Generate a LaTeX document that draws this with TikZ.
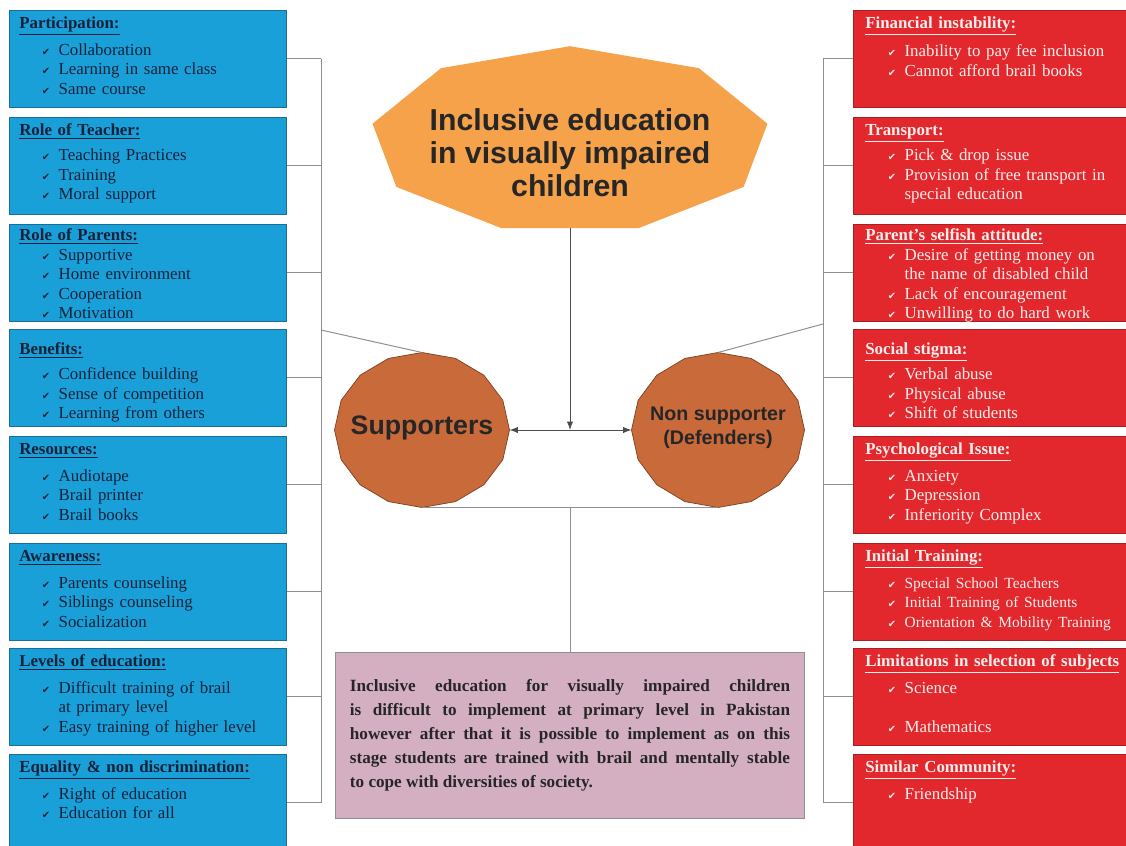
\documentclass[tikz,border=0pt]{standalone}
\usepackage{fontspec}
\setmainfont{Liberation Serif}
\newfontfamily\headfont{Liberation Sans}
\newfontfamily\symfont{DejaVu Sans}
\usetikzlibrary{arrows.meta,calc}

\definecolor{boxblue}{HTML}{1AA0D8}
\definecolor{blueedge}{HTML}{1B6D96}
\definecolor{bluetext}{HTML}{13213A}
\definecolor{boxred}{HTML}{E2282C}
\definecolor{rededge}{HTML}{A81E22}
\definecolor{redtext}{HTML}{FDEEEE}
\definecolor{goalorange}{HTML}{F5A24B}
\definecolor{sidebrown}{HTML}{C96A3B}
\definecolor{brownedge}{HTML}{7E3F1E}
\definecolor{notepink}{HTML}{D4AEC1}
\definecolor{linegray}{HTML}{8F8F8F}

% tick bullet and indents
\newcommand{\chk}{\makebox[12pt][l]{\symfont\fontsize{7}{7}\selectfont ✔}}
\newcommand{\bul}{\hspace*{16pt}\chk}
\newcommand{\cnt}{\hspace*{28pt}}

% [text offset]{name}{top left corner}{box style}{text}
\newcommand{\sidebox}[5][5]{%
  \node[#4] (#2) at (#3) {};
  \begin{scope}
    \clip (#2.south west) rectangle (#2.north east);
    \node[#4 text] at ($(#2.north west)+(10,#1)$) {#5};
  \end{scope}}

\begin{document}
\begin{tikzpicture}[x=0.025cm, y=-0.025cm,
    link/.style={draw=linegray, line width=0.7pt},
    tip/.style={-{Latex[length=6pt,width=4.5pt]}},
    lbox/.style={draw=blueedge, fill=boxblue, line width=0.6pt, anchor=north west,
      inner sep=0pt, minimum width=197pt, minimum height=68.7pt},
    lbox text/.style={anchor=north west, inner sep=0pt, text width=250pt, align=left,
      text=bluetext, font=\fontsize{12}{13.8}\selectfont},
    rbox/.style={draw=rededge, fill=boxred, line width=0.6pt, anchor=north west,
      inner sep=0pt, minimum width=200pt, minimum height=68.7pt},
    rbox text/.style={anchor=north west, inner sep=0pt, text width=250pt, align=left,
      text=redtext, xshift=1.4pt, font=\fontsize{12}{13.8}\selectfont},
    bigtext/.style={font=\headfont\bfseries, text=black!85, align=center}]

  \path[use as bounding box] (0,0) rectangle (1126,846);
  \clip (0,0) rectangle (1126,846);
  \fill[white] (0,0) rectangle (1126,846);

  % Supporters side
  \sidebox{L1}{9,10}{lbox}{\strut\underline{\textbf{Participation:}}\\[5pt]
    \bul Collaboration\\ \bul Learning in same class\\ \bul Same course}
  \sidebox{L2}{9,117}{lbox}{\strut\underline{\textbf{Role of Teacher:}}\\[4pt]
    \bul Teaching Practices\\ \bul Training\\ \bul Moral support}
  \sidebox[3]{L3}{9,224}{lbox}{\strut\underline{\textbf{Role of Parents:}}\\
    \bul Supportive\\ \bul Home environment\\ \bul Cooperation\\ \bul Motivation}
  \sidebox[12]{L4}{9,329}{lbox}{\strut\underline{\textbf{Benefits:}}\\[4pt]
    \bul Confidence building\\ \bul Sense of competition\\ \bul Learning from others}
  \sidebox{L5}{9,436}{lbox}{\strut\underline{\textbf{Resources:}}\\[5pt]
    \bul Audiotape\\ \bul Brail printer\\ \bul Brail books}
  \sidebox{L6}{9,543}{lbox}{\strut\underline{\textbf{Awareness:}}\\[5pt]
    \bul Parents counseling\\ \bul Siblings counseling\\ \bul Socialization}
  \sidebox{L7}{9,648}{lbox}{\strut\underline{\textbf{Levels of education:}}\\[5pt]
    \bul Difficult training of brail\\ \cnt at primary level\\ \bul Easy training of higher level}
  \sidebox{L8}{9,754}{lbox}{\strut\underline{\textbf{Equality \& non discrimination:}}\\[5pt]
    \bul Right of education\\ \bul Education for all}

  % Non supporter side
  \sidebox{R1}{853,10}{rbox}{\strut\underline{\textbf{Financial instability:}}\\[6pt]
    \bul Inability to pay fee inclusion\\ \bul Cannot afford brail books}
  \sidebox{R2}{853,117}{rbox}{\strut\underline{\textbf{Transport:}}\\[4pt]
    \bul Pick \& drop issue\\ \bul Provision of free transport in\\ \cnt special education}
  \sidebox[3]{R3}{853,224}{rbox}{\strut\underline{\textbf{Parent’s selfish attitude:}}\\
    \bul Desire of getting money on\\ \cnt the name of disabled child\\
    \bul Lack of encouragement\\ \bul Unwilling to do hard work}
  \sidebox[12]{R4}{853,329}{rbox}{\strut\underline{\textbf{Social stigma:}}\\[4pt]
    \bul Verbal abuse\\ \bul Physical abuse\\ \bul Shift of students}
  \sidebox{R5}{853,436}{rbox}{\strut\underline{\textbf{Psychological Issue:}}\\[5pt]
    \bul Anxiety\\ \bul Depression\\ \bul Inferiority Complex}
  \sidebox{R6}{853,543}{rbox}{\strut\underline{\textbf{Initial Training:}}\\[5pt]
    {\fontsize{11}{13.8}\selectfont \bul Special School Teachers\\
    \bul Initial Training of Students\\ \bul Orientation \& Mobility Training}}
  \sidebox{R7}{853,648}{rbox}{\strut\underline{\textbf{Limitations in selection of subjects}}\\[5pt]
    \bul Science\\[13.8pt] \bul Mathematics}
  \sidebox{R8}{853,754}{rbox}{\strut\underline{\textbf{Similar Community:}}\\[5pt]
    \bul Friendship}

  % Central shapes
  \foreach \k in {0,...,8}
    \coordinate (goal-\k) at ({570+200.5*cos(-90+40*\k)},{140+93.8*sin(-90+40*\k)});
  \fill[goalorange] (goal-0) \foreach \k in {1,...,8}{ -- (goal-\k)} -- cycle;
  \node[bigtext, font=\headfont\bfseries\fontsize{21.5}{23.5}\selectfont] (goal) at (570,153)
    {Inclusive education\\in visually impaired\\children};
  \coordinate (goal-base) at ($(goal-4)!0.5!(goal-5)$);

  \foreach \k in {0,...,15} {
    \coordinate (sup-\k) at ({422+87.5*cos(-90+22.5*\k)},{430+77.5*sin(-90+22.5*\k)});
    \coordinate (non-\k) at ({718+86.5*cos(-90+22.5*\k)},{430+77.5*sin(-90+22.5*\k)});
  }
  \filldraw[fill=sidebrown, draw=brownedge, line width=0.5pt]
    (sup-0) \foreach \k in {1,...,15}{ -- (sup-\k)} -- cycle;
  \filldraw[fill=sidebrown, draw=brownedge, line width=0.5pt]
    (non-0) \foreach \k in {1,...,15}{ -- (non-\k)} -- cycle;
  \node[bigtext, font=\headfont\bfseries\fontsize{19}{22}\selectfont] (sup) at (422,428) {Supporters};
  \node[bigtext, font=\headfont\bfseries\fontsize{14}{17}\selectfont] (non) at (718,428)
    {Non supporter\\(Defenders)};

  \node[draw=linegray, fill=notepink, line width=0.7pt, minimum width=333.8pt, minimum height=118.4pt,
    inner xsep=10.4pt, text width=313pt, align=justify,
    font=\bfseries\fontsize{12.2}{17}\selectfont, text=black!85] (note) at (570,735.5)
    {Inclusive education for visually impaired children\linebreak
     is difficult to implement at primary level in Pakistan\linebreak
     however after that it is possible to implement as on this\linebreak
     stage students are trained with brail and mentally stable\linebreak
     to cope with diversities of society.};

  % Connectors
  \coordinate (lspine) at (321,0);
  \coordinate (rspine) at (823,0);
  \foreach \i in {1,...,8} {
    \draw[link] (L\i.east) -- (L\i.east -| lspine);
    \draw[link] (R\i.west) -- (R\i.west -| rspine);
  }
  \draw[link] (L1.east -| lspine) -- (L8.east -| lspine);
  \draw[link] (R1.west -| rspine) -- (R8.west -| rspine);
  \coordinate (ljoin) at (321,330);
  \coordinate (rjoin) at (823,324);
  \draw[link] (ljoin) -- (sup-0);
  \draw[link] (rjoin) -- (non-0);

  \coordinate (hub) at (sup-4 -| goal-base);
  \draw[link, tip, draw=black!70] (goal-base) -- (hub);
  \draw[link, draw=black!70, {Latex[length=6pt,width=4.5pt]}-{Latex[length=6pt,width=4.5pt]}] (sup-4) -- (non-12);
  \draw[link] (sup-8) -- (non-8);
  \coordinate (base) at ($(sup-8)!0.5!(non-8)$);
  \draw[link] (base) -- (base |- note.north);
\end{tikzpicture}
\end{document}
